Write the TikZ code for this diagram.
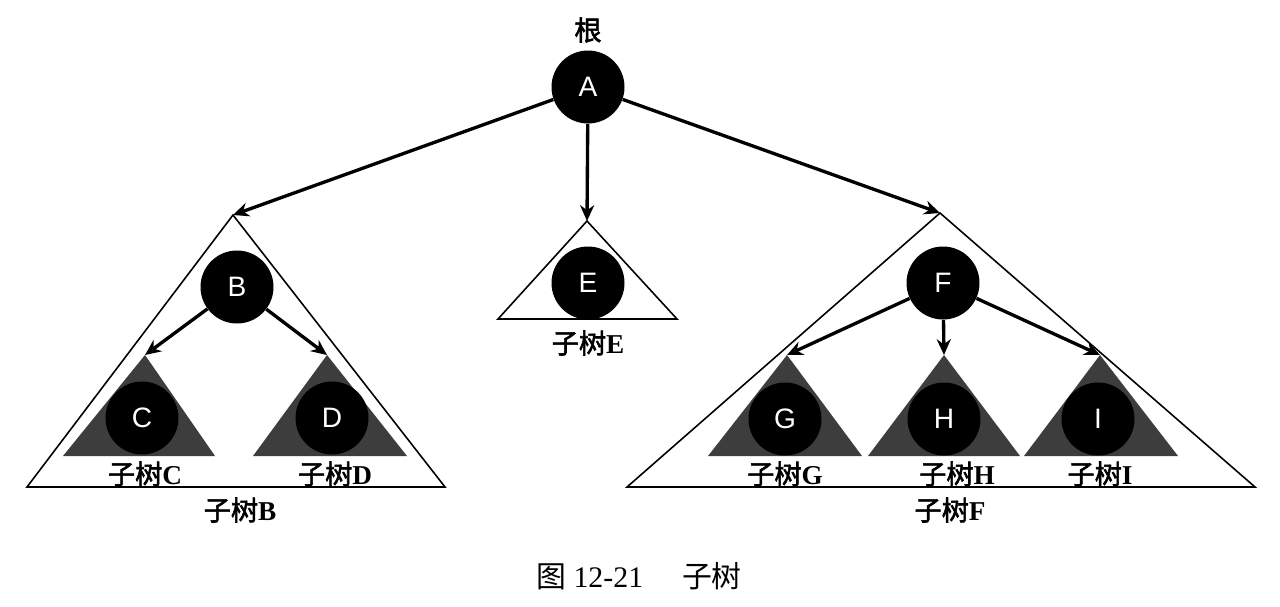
\documentclass[tikz,border=0pt]{standalone}
\usepackage{fontspec}
\setmainfont{Liberation Serif}
\setsansfont{Liberation Sans}
\newfontfamily\cjk{Noto Sans CJK SC}[AutoFakeBold=2]
\usetikzlibrary{arrows.meta}

\tikzset{
  vert/.style={circle, fill=black, text=white, minimum size=1.46cm, inner sep=0pt,
    font=\sffamily\fontsize{16}{16}\selectfont},
  edge/.style={line width=1.9pt, -{Stealth[length=9pt,width=8pt]}},
  bigtri/.style={draw, line width=0.9pt, fill=white},
  subtri/.style={fill=black!76},
  tag/.style={font=\fontsize{15.5}{15.5}\selectfont\bfseries}
}
\newcommand{\zishu}[1]{{\cjk 子树}#1}

\begin{document}
\begin{tikzpicture}[x=0.02cm, y=-0.02cm]
    \useasboundingbox (0,0) rectangle (1280,606);

    % apexes of the subtrees
    \coordinate (tB) at (233,215);
    \coordinate (tE) at (587,221);
    \coordinate (tF) at (940,213);
    \coordinate (tC) at (145,355);
    \coordinate (tD) at (327,355);
    \coordinate (tG) at (787,355);
    \coordinate (tH) at (944,355);
    \coordinate (tI) at (1100,355);

    \draw[bigtri] (tB) -- (27,487) -- (445,487) -- cycle;
    \draw[bigtri] (tE) -- (498,319) -- (677,319) -- cycle;
    \draw[bigtri] (tF) -- (627,487) -- (1255,487) -- cycle;

    \fill[subtri] (tC) -- (63,456) -- (215,456) -- cycle;
    \fill[subtri] (tD) -- (253,456) -- (407,456) -- cycle;
    \fill[subtri] (tG) -- (708,456) -- (862,456) -- cycle;
    \fill[subtri] (tH) -- (868,456) -- (1020,456) -- cycle;
    \fill[subtri] (tI) -- (1024,456) -- (1178,456) -- cycle;

    \node[vert] (A) at (588,87) {A};
    \node[vert] (B) at (237,287) {B};
    \node[vert] (E) at (588,283) {E};
    \node[vert] (F) at (943,283) {F};
    \node[vert] (C) at (142,418) {C};
    \node[vert] (D) at (332,418) {D};
    \node[vert] (G) at (785,419) {G};
    \node[vert] (H) at (944,419) {H};
    \node[vert] (I) at (1098,419) {I};

    \draw[edge] (A) -- (tB);
    \draw[edge] (A) -- (tE);
    \draw[edge] (A) -- (tF);
    \draw[edge] (B) -- (tC);
    \draw[edge] (B) -- (tD);
    \draw[edge] (F) -- (tG);
    \draw[edge] (F) -- (tH);
    \draw[edge] (F) -- (tI);

    \node[tag] (root) at (588,30) {\cjk 根};
    \node[tag] (lB) at (240,510) {\zishu{B}};
    \node[tag] (lC) at (145,474) {\zishu{C}};
    \node[tag] (lD) at (335,474) {\zishu{D}};
    \node[tag] (lE) at (588,343) {\zishu{E}};
    \node[tag] (lF) at (950,510) {\zishu{F}};
    \node[tag] (lG) at (785,474) {\zishu{G}};
    \node[tag] (lH) at (957,474) {\zishu{H}};
    \node[tag] (lI) at (1100,474) {\zishu{I}};

    \node[font=\fontsize{17}{17}\selectfont] (cap) at (639,576)
      {{\cjk 图} 12-21\hspace{1.3em}{\cjk 子树}};
\end{tikzpicture}
\end{document}
